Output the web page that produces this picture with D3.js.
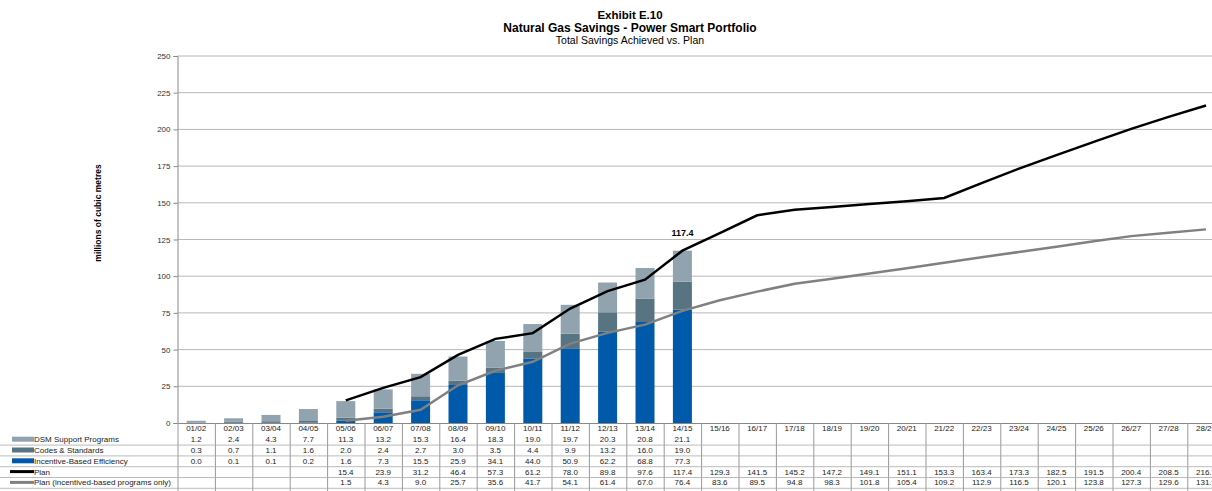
<!DOCTYPE html>
<html><head><meta charset="utf-8">
<script src="https://cdn.jsdelivr.net/npm/d3@7"></script>
<style>body{margin:0;background:#fff}svg{display:block}text{font-family:"Liberation Sans",Arial,sans-serif}</style>
</head><body><svg id="c" width="1212" height="491"></svg>
<script>
const categories = ["01/02","02/03","03/04","04/05","05/06","06/07","07/08","08/09","09/10","10/11","11/12","12/13","13/14","14/15","15/16","16/17","17/18","18/19","19/20","20/21","21/22","22/23","23/24","24/25","25/26","26/27","27/28","28/29"];
const dsm = [1.2,2.4,4.3,7.7,11.3,13.2,15.3,16.4,18.3,19.0,19.7,20.3,20.8,21.1];
const codes = [0.3,0.7,1.1,1.6,2.0,2.4,2.7,3.0,3.5,4.4,9.9,13.2,16.0,19.0];
const incentive = [0.0,0.1,0.1,0.2,1.6,7.3,15.5,25.9,34.1,44.0,50.9,62.2,68.8,77.3];
const plan = [null,null,null,null,15.4,23.9,31.2,46.4,57.3,61.2,78.0,89.8,97.6,117.4,129.3,141.5,145.2,147.2,149.1,151.1,153.3,163.4,173.3,182.5,191.5,200.4,208.5,216.3];
const planIncentive = [null,null,null,null,1.5,4.3,9.0,25.7,35.6,41.7,54.1,61.4,67.0,76.4,83.6,89.5,94.8,98.3,101.8,105.4,109.2,112.9,116.5,120.1,123.8,127.3,129.6,131.9];
const yTicks = [0,25,50,75,100,125,150,175,200,225,250];

const colors = {dsm:"#90a3af", codes:"#587482", inc:"#005aaa", plan:"#000", planInc:"#808080"};
const svg = d3.select("#c");
const x0 = 177.5, bw = 37.4;
const x = d3.scaleBand().domain(categories).range([x0, x0 + bw*categories.length]);
const y = d3.scaleLinear().domain([0,250]).range([423,56]);
const xr = 1212;

// gridlines
svg.append("g").selectAll("line").data(yTicks.filter(d=>d>0)).join("line")
  .attr("x1",x0).attr("x2",xr).attr("y1",d=>y(d)).attr("y2",d=>y(d))
  .attr("stroke","#b8b8b8").attr("stroke-width",1);

// y axis
const ya = svg.append("g").attr("transform",`translate(${x0},0)`)
  .call(d3.axisLeft(y).tickValues(yTicks).tickSize(4).tickPadding(3));
ya.select(".domain").attr("stroke","#888");
ya.selectAll(".tick line").attr("stroke","#888");
ya.selectAll(".tick text").attr("font-size",8).attr("fill","#333").attr("font-family","Liberation Sans, Arial");

// bars
const stackData = dsm.map((d,i)=>({cat:categories[i], inc:incentive[i], codes:codes[i], dsm:dsm[i]}));
const stack = d3.stack().keys(["inc","codes","dsm"])(stackData);
const barW = 19;
svg.append("g").selectAll("g").data(stack).join("g")
  .attr("fill",s=>colors[s.key])
  .selectAll("rect").data(s=>s).join("rect")
  .attr("x",d=>x(d.data.cat)+x.bandwidth()/2-barW/2).attr("width",barW)
  .attr("y",d=>y(d[1])).attr("height",d=>Math.max(0,y(d[0])-y(d[1])));

// x axis line
svg.append("line").attr("x1",x0).attr("x2",xr).attr("y1",423.5).attr("y2",423.5).attr("stroke","#888");

// lines
const line = d3.line().defined(d=>d.v!=null).x(d=>x(d.c)+x.bandwidth()/2).y(d=>y(d.v));
svg.append("path").datum(categories.map((c,i)=>({c,v:planIncentive[i]}))).attr("d",line)
  .attr("fill","none").attr("stroke",colors.planInc).attr("stroke-width",2.5);
svg.append("path").datum(categories.map((c,i)=>({c,v:plan[i]}))).attr("d",line)
  .attr("fill","none").attr("stroke",colors.plan).attr("stroke-width",2.5);

// 117.4 label
svg.append("text").attr("x",x("14/15")+x.bandwidth()/2).attr("y",y(117.4)-15).attr("text-anchor","middle")
  .attr("font-size",9).attr("font-weight","bold").text("117.4");

// titles
svg.append("text").attr("x",630).attr("y",19).attr("text-anchor","middle").attr("font-size",11.5).attr("font-weight","bold").text("Exhibit E.10");
svg.append("text").attr("x",630).attr("y",31.5).attr("text-anchor","middle").attr("font-size",12).attr("font-weight","bold").text("Natural Gas Savings - Power Smart Portfolio");
svg.append("text").attr("x",630).attr("y",43.5).attr("text-anchor","middle").attr("font-size",10.5).text("Total Savings Achieved vs. Plan");
svg.append("text").attr("transform","translate(101,213) rotate(-90)").attr("text-anchor","middle")
  .attr("font-size",8.5).attr("font-weight","bold").text("millions of cubic metres");

// data table
const rowH = 10.8, tTop = 423;
const rows = [
  {label:"DSM Support Programs", vals:dsm, key:"dsm", type:"rect"},
  {label:"Codes & Standards", vals:codes, key:"codes", type:"rect"},
  {label:"Incentive-Based Efficiency", vals:incentive, key:"inc", type:"rect"},
  {label:"Plan", vals:plan, key:"plan", type:"line"},
  {label:"Plan (incentived-based programs only)", vals:planIncentive, key:"planInc", type:"line"}
];
const tg = svg.append("g");
tg.selectAll("text.h").data(categories).join("text").attr("class","h")
  .attr("x",d=>x(d)+x.bandwidth()/2).attr("y",tTop+rowH/2+3).attr("text-anchor","middle")
  .attr("font-size",8).attr("fill","#222").text(d=>d);
tg.selectAll("line.v").data(d3.range(categories.length+1)).join("line").attr("class","v")
  .attr("x1",i=>x0+i*bw+0.5).attr("x2",i=>x0+i*bw+0.5).attr("y1",tTop).attr("y2",491)
  .attr("stroke","#999");
tg.selectAll("line.hl").data(d3.range(2,7)).join("line").attr("class","hl")
  .attr("x1",0).attr("x2",xr).attr("y1",d=>tTop+d*rowH+0.5).attr("y2",d=>tTop+d*rowH+0.5)
  .attr("stroke","#aaa").attr("stroke-width",0.8);
rows.forEach((r,ri)=>{
  const cy = tTop + (ri+1)*rowH + rowH/2;
  if(r.type==="rect"){
    tg.append("rect").attr("x",12).attr("y",cy-2.5).attr("width",22).attr("height",5).attr("fill",colors[r.key]);
  } else {
    tg.append("line").attr("x1",10).attr("x2",34).attr("y1",cy).attr("y2",cy).attr("stroke",colors[r.key]).attr("stroke-width",3);
  }
  tg.append("text").attr("x",34).attr("y",cy+3).attr("font-size",8).attr("fill","#222").text(r.label);
  tg.selectAll(null).data(r.vals.map((v,i)=>({v,c:categories[i]})).filter(d=>d.v!=null)).join("text")
    .attr("x",d=>x(d.c)+x.bandwidth()/2).attr("y",cy+3).attr("text-anchor","middle")
    .attr("font-size",8).attr("fill","#222").text(d=>d.v.toFixed(1));
});
</script></body></html>
